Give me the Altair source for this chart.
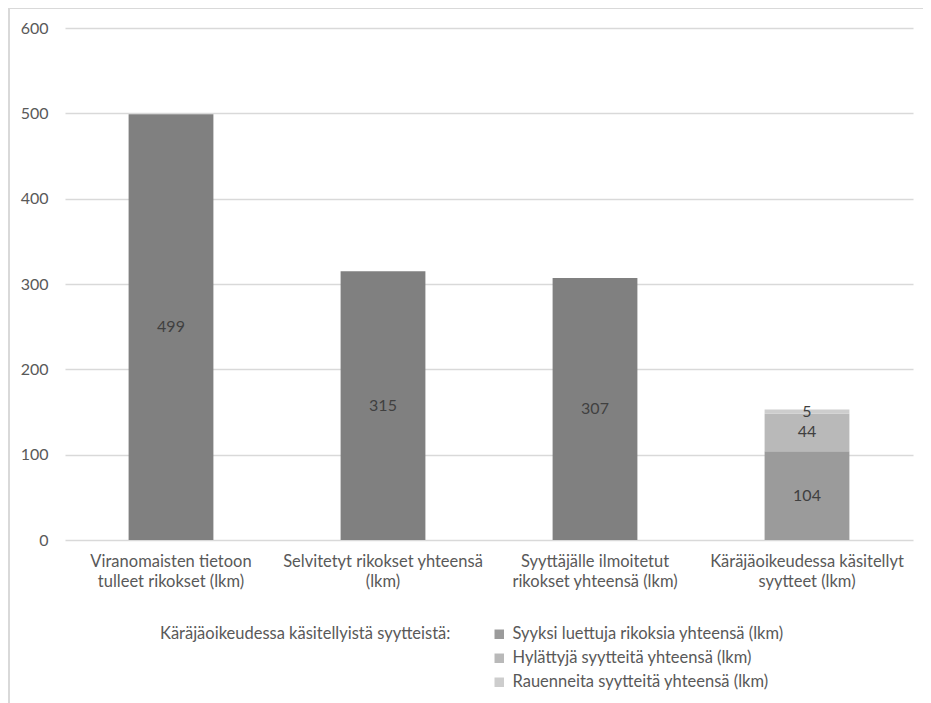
import altair as alt
import pandas as pd

categories = [
    "Viranomaisten tietoon|tulleet rikokset (lkm)",
    "Selvitetyt rikokset yhteensä|(lkm)",
    "Syyttäjälle ilmoitetut|rikokset yhteensä (lkm)",
    "Käräjäoikeudessa käsitellyt|syytteet (lkm)",
]
total_series = "Yhteensä"
total_values = [499, 315, 307]
court_series = [
    "Syyksi luettuja rikoksia yhteensä (lkm)",
    "Hylättyjä syytteitä yhteensä (lkm)",
    "Rauenneita syytteitä yhteensä (lkm)",
]
court_values = [104, 44, 5]
colors = ["#808080", "#9b9b9b", "#b9b9b9", "#cdcdcd"]

rows = []
for c, v in zip(categories[:3], total_values):
    rows.append({"category": c, "series": total_series, "value": v, "ord": 0})
for i, (s, v) in enumerate(zip(court_series, court_values)):
    rows.append({"category": categories[3], "series": s, "value": v, "ord": i + 1})
df = pd.DataFrame(rows)

FONT = "Lato"
GRAY = "#595959"

base = alt.Chart(df).transform_stack(
    stack="value", groupby=["category"], as_=["y0", "y1"],
    sort=[alt.SortField("ord", order="ascending")],
).transform_calculate(mid="(datum.y0 + datum.y1) / 2")

x_enc = alt.X(
    "category:N", sort=categories, title=None,
    scale=alt.Scale(paddingInner=0.6, paddingOuter=0.3),
    axis=alt.Axis(
        labelExpr="split(datum.label, '|')", labelAngle=0, labelFontSize=16.5,
        labelLineHeight=20, labelPadding=13, labelColor=GRAY, labelFont=FONT,
        domain=False, ticks=False, labelLimit=300,
    ),
)

bars = base.mark_bar().encode(
    x=x_enc,
    y=alt.Y(
        "y0:Q", title=None,
        scale=alt.Scale(domain=[0, 600]),
        axis=alt.Axis(
            values=[0, 100, 200, 300, 400, 500, 600], labelFontSize=16,
            labelColor=GRAY, labelFont=FONT, labelPadding=17,
            domain=False, ticks=False, gridColor="#d9d9d9", gridWidth=1.3,
        ),
    ),
    y2="y1:Q",
    color=alt.Color(
        "series:N",
        scale=alt.Scale(domain=[total_series] + court_series, range=colors),
        legend=alt.Legend(
            values=court_series,
            title="Käräjäoikeudessa käsitellyistä syytteistä:",
            titleOrient="left", titleFont=FONT, titleFontSize=16.5,
            titleFontWeight="normal", titleColor=GRAY, titlePadding=40,
            titleAnchor="start", titleBaseline="top", titleLimit=500,
            labelFont=FONT, labelFontSize=16.5, labelColor=GRAY,
            symbolType="square", symbolSize=90, symbolStrokeWidth=0,
            rowPadding=7, labelOffset=5, labelLimit=400,
            orient="none", legendX=95, legendY=598,
        ),
    ),
    order=alt.Order("ord:Q"),
)

labels = base.mark_text(fontSize=16, color="#404040", font=FONT).encode(
    x=alt.X("category:N", sort=categories),
    y=alt.Y("mid:Q"),
    text=alt.Text("value:Q"),
)

frame_df = pd.DataFrame({"k": [0]})
frame_top = alt.Chart(frame_df).mark_rule(color="#d9d9d9", strokeWidth=2).encode(
    x=alt.value(-56), x2=alt.value(900), y=alt.value(-20)
)
frame_left = alt.Chart(frame_df).mark_rule(color="#d9d9d9", strokeWidth=2).encode(
    x=alt.value(-56), y=alt.value(-20), y2=alt.value(700)
)

chart = alt.layer(bars, labels, frame_top, frame_left).properties(
    width=848, height=512,
    autosize=alt.AutoSizeParams(type="none"),
    padding={"left": 57, "top": 20, "right": 10, "bottom": 175},
    background="white",
).configure_view(stroke=None)

chart.save("out.html", embed_options={"renderer": "svg", "actions": False})
